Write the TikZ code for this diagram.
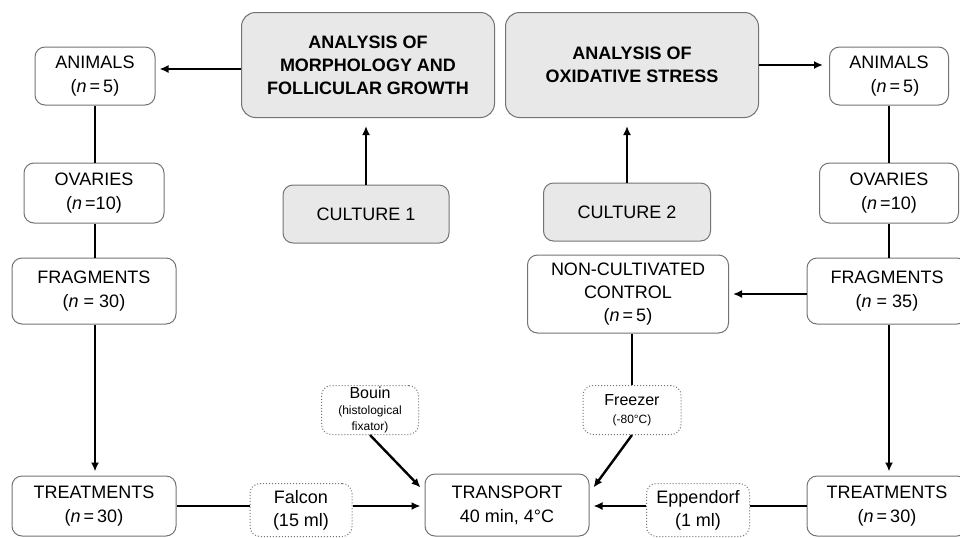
\documentclass[tikz,border=0pt]{standalone}
\usepackage{fontspec}
\setmainfont{Liberation Sans}
\usepackage{xcolor}
\definecolor{boxgray}{rgb}{0.91,0.91,0.91}
\definecolor{edgegray}{rgb}{0.45,0.45,0.45}
\usetikzlibrary{arrows.meta}
\usetikzlibrary{positioning}

\tikzset{
	plainbox/.style={draw=edgegray, line width=0.5pt, rounded corners=5pt, align=center, font=\fontsize{9}{12}\selectfont, inner sep=0pt},
	analysisbox/.style={plainbox, fill=boxgray, rounded corners=7pt, font=\fontsize{9}{11.5}\selectfont\bfseries},
	culturebox/.style={plainbox, fill=boxgray},
	holderbox/.style={plainbox, densely dotted, draw=edgegray, rounded corners=5pt},
	link/.style={line width=1.2pt},
	arrow/.style={link, -{Latex[length=4.5pt, width=4pt]}},
}

\newcommand{\nn}{\textit{n}}

\begin{document}
\begin{tikzpicture}[x=0.5pt, y=-0.5pt]

\useasboundingbox (0,0) rectangle (960,537);

% Analysis boxes
\node[analysisbox, minimum width=126.5pt, minimum height=52.5pt] (morph) at (368,65) {ANALYSIS OF\\MORPHOLOGY AND\\FOLLICULAR GROWTH};
\node[analysisbox, minimum width=126.5pt, minimum height=52.5pt] (oxid) at (632,65) {ANALYSIS OF\\OXIDATIVE STRESS};

% Cultures
\node[culturebox, minimum width=83pt, minimum height=29pt] (cult1) at (366,214) {CULTURE 1};
\node[culturebox, minimum width=83.5pt, minimum height=29pt] (cult2) at (627,212) {CULTURE 2};

% Left column
\node[plainbox, minimum width=60pt, minimum height=29pt] (animL) at (95,76) {ANIMALS\\(\nn\,=\,5)};
\node[plainbox, minimum width=70pt, minimum height=30pt] (ovarL) at (94,193) {OVARIES\\(\nn\,=10)};
\node[plainbox, minimum width=82pt, minimum height=33pt] (fragL) at (94,291) {FRAGMENTS\\(\nn\ = 30)};
\node[plainbox, minimum width=82pt, minimum height=30pt] (treatL) at (94,506) {TREATMENTS\\(\nn\,=\,30)};

% Right column
\node[plainbox, minimum width=59.5pt, minimum height=29pt] (animR) at (889,76) {ANIMALS\\\hspace*{6pt}(\nn\,=\,5)};
\node[plainbox, minimum width=69.5pt, minimum height=30pt] (ovarR) at (889,193) {OVARIES\\(\nn\,=10)};
\node[plainbox, minimum width=80pt, minimum height=33pt] (fragR) at (887,291) {FRAGMENTS\\(\nn\ = 35)};
\node[plainbox, minimum width=80pt, minimum height=30pt] (treatR) at (887,506) {TREATMENTS\\(\nn\,=\,30)};

% Control and transport
\node[plainbox, minimum width=100.5pt, minimum height=39pt, font=\fontsize{9}{11.5}\selectfont] (control) at (628,294) {NON-CULTIVATED\\CONTROL\\(\nn\,=\,5)};
\node[plainbox, minimum width=82pt, minimum height=31pt] (transport) at (507,505) {TRANSPORT\\40 min, 4\textdegree C};

% Holders
\node[holderbox, minimum width=51pt, minimum height=26.5pt, font=\fontsize{9}{11.5}\selectfont] (falcon) at (301,510) {Falcon\\(15 ml)};
\node[holderbox, minimum width=51.5pt, minimum height=26.5pt, font=\fontsize{9}{11.5}\selectfont] (eppen) at (698,510) {Eppendorf\\(1 ml)};
\node[holderbox, minimum width=48.5pt, minimum height=24.5pt, font=\fontsize{8}{8}\selectfont] (bouin) at (370,410) {Bouin\\{\fontsize{6}{7.5}\selectfont (histological}\\{\fontsize{6}{7}\selectfont fixator)}};
\node[holderbox, minimum width=49pt, minimum height=24.5pt, font=\fontsize{8}{9}\selectfont] (freezer) at (632,410) {Freezer\\{\fontsize{6}{7}\selectfont (-80\textdegree C)}};

% Connectors, top
\draw[arrow, shorten >=2pt] ([yshift=-2pt]morph.west) -- ([yshift=-2pt]morph.west -| animL.east);
\draw[arrow, shorten >=3pt] (oxid.east) -- (oxid.east -| animR.west);
\draw[arrow, shorten >=4pt] (cult1.north) -- (cult1.north |- morph.south);
\draw[arrow, shorten >=4pt] (cult2.north) -- (cult2.north |- oxid.south);

% Connectors, left
\draw[link] (animL.south) -- (animL.south |- ovarL.north);
\draw[link] (ovarL.south -| animL.south) -- (animL.south |- fragL.north);
\draw[arrow, shorten >=2pt] (fragL.south -| animL.south) -- (animL.south |- treatL.north);
\draw[link] (treatL.east) -- (treatL.east -| falcon.west);
\draw[arrow, shorten >=2pt] (falcon.east |- treatL.east) -- (transport.west |- treatL.east);

% Connectors, right
\draw[link] (animR.south) -- (animR.south |- ovarR.north);
\draw[link] (ovarR.south -| animR.south) -- (animR.south |- fragR.north);
\draw[arrow, shorten >=2pt] (fragR.south -| animR.south) -- (animR.south |- treatR.north);
\draw[arrow, shorten >=2pt] (fragR.west |- control.east) -- (control.east);
\draw[link] (treatR.west) -- (treatR.west -| eppen.east);
\draw[arrow, shorten >=2pt] (eppen.west |- treatR.west) -- (transport.east |- treatR.west);

% Control to transport
\draw[link] (control.south -| freezer.north) -- (freezer.north);
\draw[arrow] (freezer.south) -- ([xshift=2pt]transport.12);
\draw[arrow] (bouin.south) -- ([xshift=-2pt]transport.168);

\end{tikzpicture}
\end{document}
